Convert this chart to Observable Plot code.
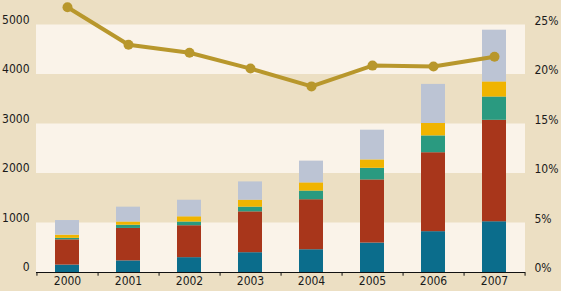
<!DOCTYPE html>
<html>
<head>
<meta charset="utf-8">
<script src="https://cdn.jsdelivr.net/npm/d3@7"></script>
<script src="https://cdn.jsdelivr.net/npm/@observablehq/plot@0.6"></script>
<style>
  html, body { margin: 0; padding: 0; background: #ecdfc3; }
  #chart svg { display: block; }
</style>
</head>
<body>
<div id="chart"></div>
<script>
const years = ["2000", "2001", "2002", "2003", "2004", "2005", "2006", "2007"];
const seriesNames = ["A", "B", "C", "D", "E"];
const seriesColors = ["#0b6d8c", "#a8361b", "#2a9a80", "#f0b400", "#bcc4d4"];
const serA = [150, 235, 300, 400, 460, 595, 825, 1025];
const serB = [510, 655, 645, 825, 1010, 1275, 1595, 2050];
const serC = [30, 65, 75, 95, 175, 235, 340, 470];
const serD = [65, 65, 105, 140, 165, 170, 250, 305];
const serE = [295, 300, 335, 370, 440, 600, 790, 1045];
const share = [26.8, 23.0, 22.2, 20.6, 18.8, 20.9, 20.8, 21.8];
const leftTicks = [0, 1000, 2000, 3000, 4000, 5000];
const rightTicks = [0, 5, 10, 15, 20, 25];
const lightBands = [[0, 1000], [2000, 3000], [4000, 5000]];

const allSeries = [serA, serB, serC, serD, serE];
const bars = [];
years.forEach((yr, i) => {
  allSeries.forEach((s, k) => bars.push({year: yr, series: seriesNames[k], value: s[i]}));
});
const lineData = years.map((yr, i) => ({year: yr, pct: share[i]}));
const pctToValue = 200; // 25% <-> 5000

const font = "'DejaVu Sans Condensed', 'Liberation Sans Narrow', sans-serif";
const step = (525 - 36) / 8;

const chart = Plot.plot({
  width: 561,
  height: 291,
  marginLeft: 36,
  marginRight: 36,
  marginTop: 0,
  marginBottom: 19,
  style: {background: "#ecdfc3", fontFamily: font, fontSize: "12px", color: "#1a1a1a", fontStretch: "condensed"},
  x: {type: "band", domain: years, paddingInner: 0.6, paddingOuter: 0.3, axis: null},
  y: {domain: [0, 5495], axis: null},
  color: {domain: seriesNames, range: seriesColors},
  marks: [
    Plot.rectY(lightBands, {y1: d => d[0], y2: d => d[1], fill: "#faf3e9"}),
    Plot.barY(bars, {x: "year", y: "value", fill: "series", order: seriesNames}),
    Plot.ruleY([0], {stroke: "#111", strokeWidth: 1.2}),
    Plot.ruleX(years, {x: d => d, y1: 0, y2: -75, dx: step / 2, stroke: "#111"}),
    Plot.ruleX([years[0]], {x: d => d, y1: 0, y2: -75, dx: -step / 2, stroke: "#111"}),
    Plot.line(lineData, {x: "year", y: d => d.pct * pctToValue, stroke: "#b8972c", strokeWidth: 4}),
    Plot.dot(lineData, {x: "year", y: d => d.pct * pctToValue, r: 5, fill: "#b8972c"}),
    Plot.axisY(leftTicks, {anchor: "left", label: null, tickSize: 0, tickPadding: 7, dy: -5, fontSize: 12, tickFormat: d => String(d)}),
    Plot.axisY(leftTicks, {anchor: "right", label: null, tickSize: 0, tickPadding: 9, dy: -4, fontSize: 12, tickFormat: d => (d / pctToValue) + "%"}),
    Plot.axisX(years, {anchor: "bottom", label: null, tickSize: 0, tickPadding: 4, fontSize: 12})
  ]
});
document.getElementById("chart").appendChild(chart);
</script>
</body>
</html>
